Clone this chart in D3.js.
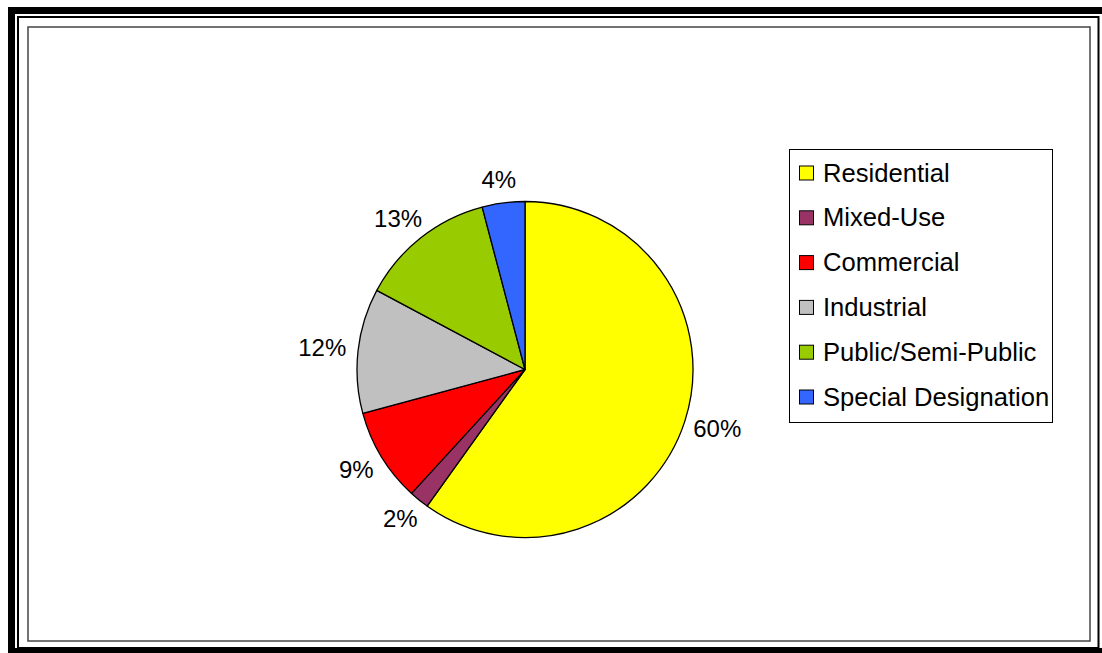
<!DOCTYPE html>
<html>
<head>
<meta charset="utf-8">
<script src="https://cdn.jsdelivr.net/npm/d3@7"></script>
<style>
  body { margin: 0; background: #fff; }
  svg { display: block; font-family: "Liberation Sans", Arial, sans-serif; }
</style>
</head>
<body>
<svg id="chart" width="1102" height="653"></svg>
<script>
var categories = ["Residential", "Mixed-Use", "Commercial", "Industrial", "Public/Semi-Public", "Special Designation"];
var values = [59.9, 1.9, 9.0, 12.0, 13.1, 4.1];
var colors = ["#ffff00", "#993366", "#ff0000", "#c0c0c0", "#99cc00", "#3366ff"];

var svg = d3.select('#chart');

// frame: thick black, thin black, gray plot border
svg.append('rect').attr('x', 11.5).attr('y', 10.5).attr('width', 1102).attr('height', 641)
  .attr('fill', 'none').attr('stroke', '#000').attr('stroke-width', 7);
svg.append('rect').attr('x', 18).attr('y', 17).attr('width', 1080.5).attr('height', 631)
  .attr('fill', 'none').attr('stroke', '#000').attr('stroke-width', 2);
svg.append('rect').attr('x', 28).attr('y', 27).attr('width', 1062).attr('height', 614)
  .attr('fill', 'none').attr('stroke', '#444').attr('stroke-width', 1.5);

var data = categories.map(function (c, i) { return { name: c, value: values[i], color: colors[i] }; });
var total = d3.sum(values);

var cx = 525, cy = 369.5, r = 168;

var pie = d3.pie().sort(null).value(function (d) { return d.value; });
var arc = d3.arc().innerRadius(0).outerRadius(r);

var g = svg.append('g').attr('transform', 'translate(' + cx + ',' + cy + ')');

g.selectAll('path')
  .data(pie(data))
  .enter()
  .append('path')
  .attr('d', arc)
  .attr('fill', function (d) { return d.data.color; })
  .attr('stroke', '#000')
  .attr('stroke-width', 1.3)
  .attr('stroke-linejoin', 'round');

// labels outside the slices
var labelR = 179, fs = 24;
g.selectAll('text.lbl')
  .data(pie(data))
  .enter()
  .append('text')
  .attr('class', 'lbl')
  .attr('font-size', fs + 'px')
  .attr('fill', '#000')
  .attr('text-anchor', 'middle')
  .attr('dominant-baseline', 'central')
  .text(function (d) { return Math.round(d.data.value / total * 100) + '%'; })
  .each(function (d) {
    var a = (d.startAngle + d.endAngle) / 2;
    var ux = Math.sin(a), uy = -Math.cos(a);
    var w = this.getComputedTextLength();
    var h = 26;
    d3.select(this)
      .attr('x', labelR * ux + ux * w / 2 - 1)
      .attr('y', labelR * uy + uy * h / 2);
  });

// legend
var lx = 789, ly = 149;
svg.append('rect').attr('x', lx + 0.5).attr('y', ly + 0.5).attr('width', 263).attr('height', 273)
  .attr('fill', '#fff').attr('stroke', '#000').attr('stroke-width', 1);

var leg = svg.selectAll('g.leg')
  .data(data)
  .enter()
  .append('g')
  .attr('class', 'leg')
  .attr('transform', function (d, i) { return 'translate(' + lx + ',' + (ly + 23.5 + i * 44.8) + ')'; });

leg.append('rect')
  .attr('x', 10.5).attr('y', -6.5)
  .attr('width', 14).attr('height', 14)
  .attr('fill', function (d) { return d.color; })
  .attr('stroke', '#000').attr('stroke-width', 1);

leg.append('text')
  .attr('x', 34)
  .attr('y', 0)
  .attr('dominant-baseline', 'central')
  .attr('font-size', '25.6px')
  .attr('fill', '#000')
  .text(function (d) { return d.name; });
</script>
</body>
</html>
